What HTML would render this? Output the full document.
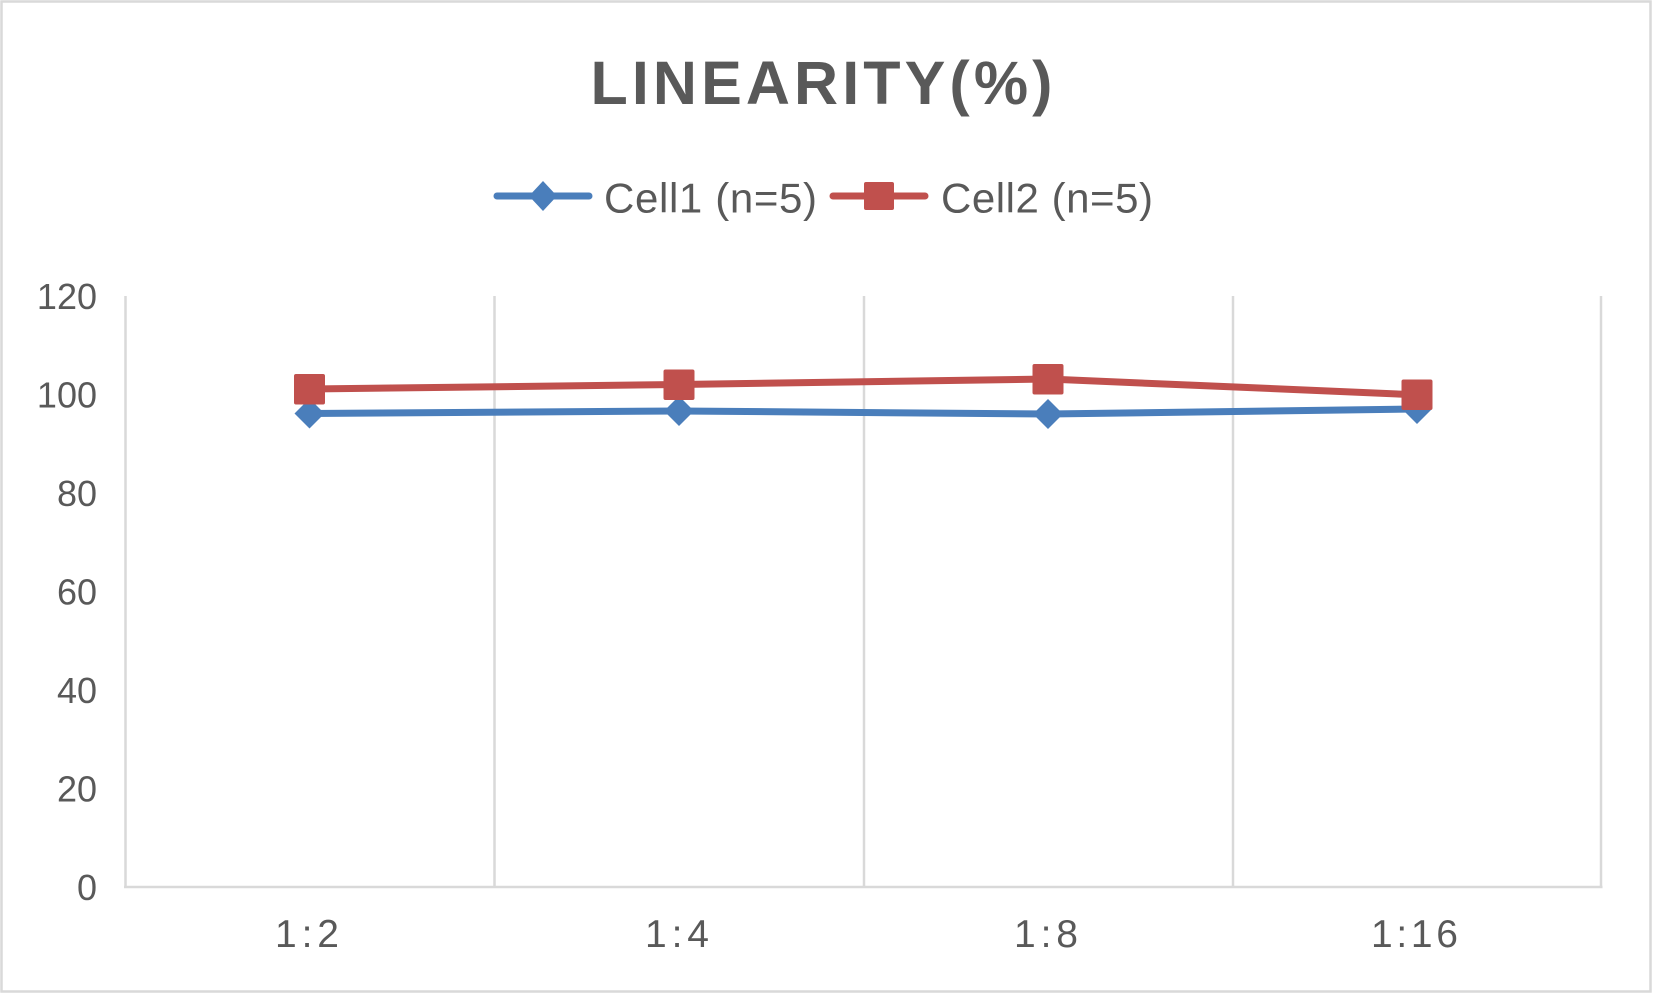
<!DOCTYPE html>
<html>
<head>
<meta charset="utf-8">
<style>
  html, body { margin: 0; padding: 0; background: #ffffff; }
  svg { display: block; }
  text { font-family: "Liberation Sans", "DejaVu Sans", sans-serif; fill: #595959; }
</style>
</head>
<body>
<svg width="1654" height="994" viewBox="0 0 1654 994" xmlns="http://www.w3.org/2000/svg">
  <rect x="0" y="0" width="1654" height="994" fill="#ffffff"/>
  <rect x="1.5" y="1.5" width="1649" height="990" fill="none" stroke="#d9d9d9" stroke-width="2.5"/>

  <!-- Title -->
  <text x="590.5" y="104" font-size="61" font-weight="bold" textLength="462" lengthAdjust="spacing">LINEARITY(%)</text>

  <!-- Legend -->
  <line x1="497" y1="196" x2="589" y2="196" stroke="#4a7ebb" stroke-width="7" stroke-linecap="round"/>
  <polygon points="543,181 557,196 543,211 529,196" fill="#4a7ebb"/>
  <text x="604" y="212.5" font-size="42" textLength="213" lengthAdjust="spacing">Cell1 (n=5)</text>

  <line x1="833" y1="196" x2="925" y2="196" stroke="#c0504d" stroke-width="7" stroke-linecap="round"/>
  <rect x="864" y="182" width="30" height="28" rx="2" fill="#c0504d"/>
  <text x="941" y="212.5" font-size="42" textLength="212" lengthAdjust="spacing">Cell2 (n=5)</text>

  <!-- Gridlines (vertical) -->
  <g stroke="#d9d9d9" stroke-width="2.5">
    <line x1="125.5" y1="296" x2="125.5" y2="887"/>
    <line x1="494.5" y1="296" x2="494.5" y2="887"/>
    <line x1="864" y1="296" x2="864" y2="887"/>
    <line x1="1233" y1="296" x2="1233" y2="887"/>
    <line x1="1601" y1="296" x2="1601" y2="887"/>
    <line x1="124" y1="887" x2="1602.5" y2="887"/>
  </g>

  <!-- Y axis labels -->
  <g font-size="36" text-anchor="end">
    <text x="97" y="309">120</text>
    <text x="97" y="407.5">100</text>
    <text x="97" y="506">80</text>
    <text x="97" y="604.5">60</text>
    <text x="97" y="703">40</text>
    <text x="97" y="801.5">20</text>
    <text x="97" y="900">0</text>
  </g>

  <!-- X axis labels -->
  <g font-size="39">
    <text x="275" y="947" textLength="64" lengthAdjust="spacing">1:2</text>
    <text x="645" y="947" textLength="64" lengthAdjust="spacing">1:4</text>
    <text x="1014" y="947" textLength="64" lengthAdjust="spacing">1:8</text>
    <text x="1371" y="947" textLength="87" lengthAdjust="spacing">1:16</text>
  </g>

  <!-- Series: Cell1 (blue) -->
  <polyline points="309.5,413.5 679,411 1048,414 1417,409" fill="none" stroke="#4a7ebb" stroke-width="7" stroke-linejoin="round"/>
  <g fill="#4a7ebb">
    <polygon points="309.5,398.5 324.5,413.5 309.5,428.5 294.5,413.5"/>
    <polygon points="679,396 694,411 679,426 664,411"/>
    <polygon points="1048,399 1063,414 1048,429 1033,414"/>
    <polygon points="1417,394 1432,409 1417,424 1402,409"/>
  </g>

  <!-- Series: Cell2 (red) -->
  <polyline points="309.5,389 679,384.5 1048,379 1417,394.8" fill="none" stroke="#c0504d" stroke-width="7" stroke-linejoin="round"/>
  <g fill="#c0504d">
    <rect x="294" y="374" width="31" height="30.5" rx="2"/>
    <rect x="663.5" y="369.5" width="31" height="30.5" rx="2"/>
    <rect x="1032.5" y="364" width="31" height="30.5" rx="2"/>
    <rect x="1401.5" y="379.5" width="31" height="30.5" rx="2"/>
  </g>
</svg>
</body>
</html>
